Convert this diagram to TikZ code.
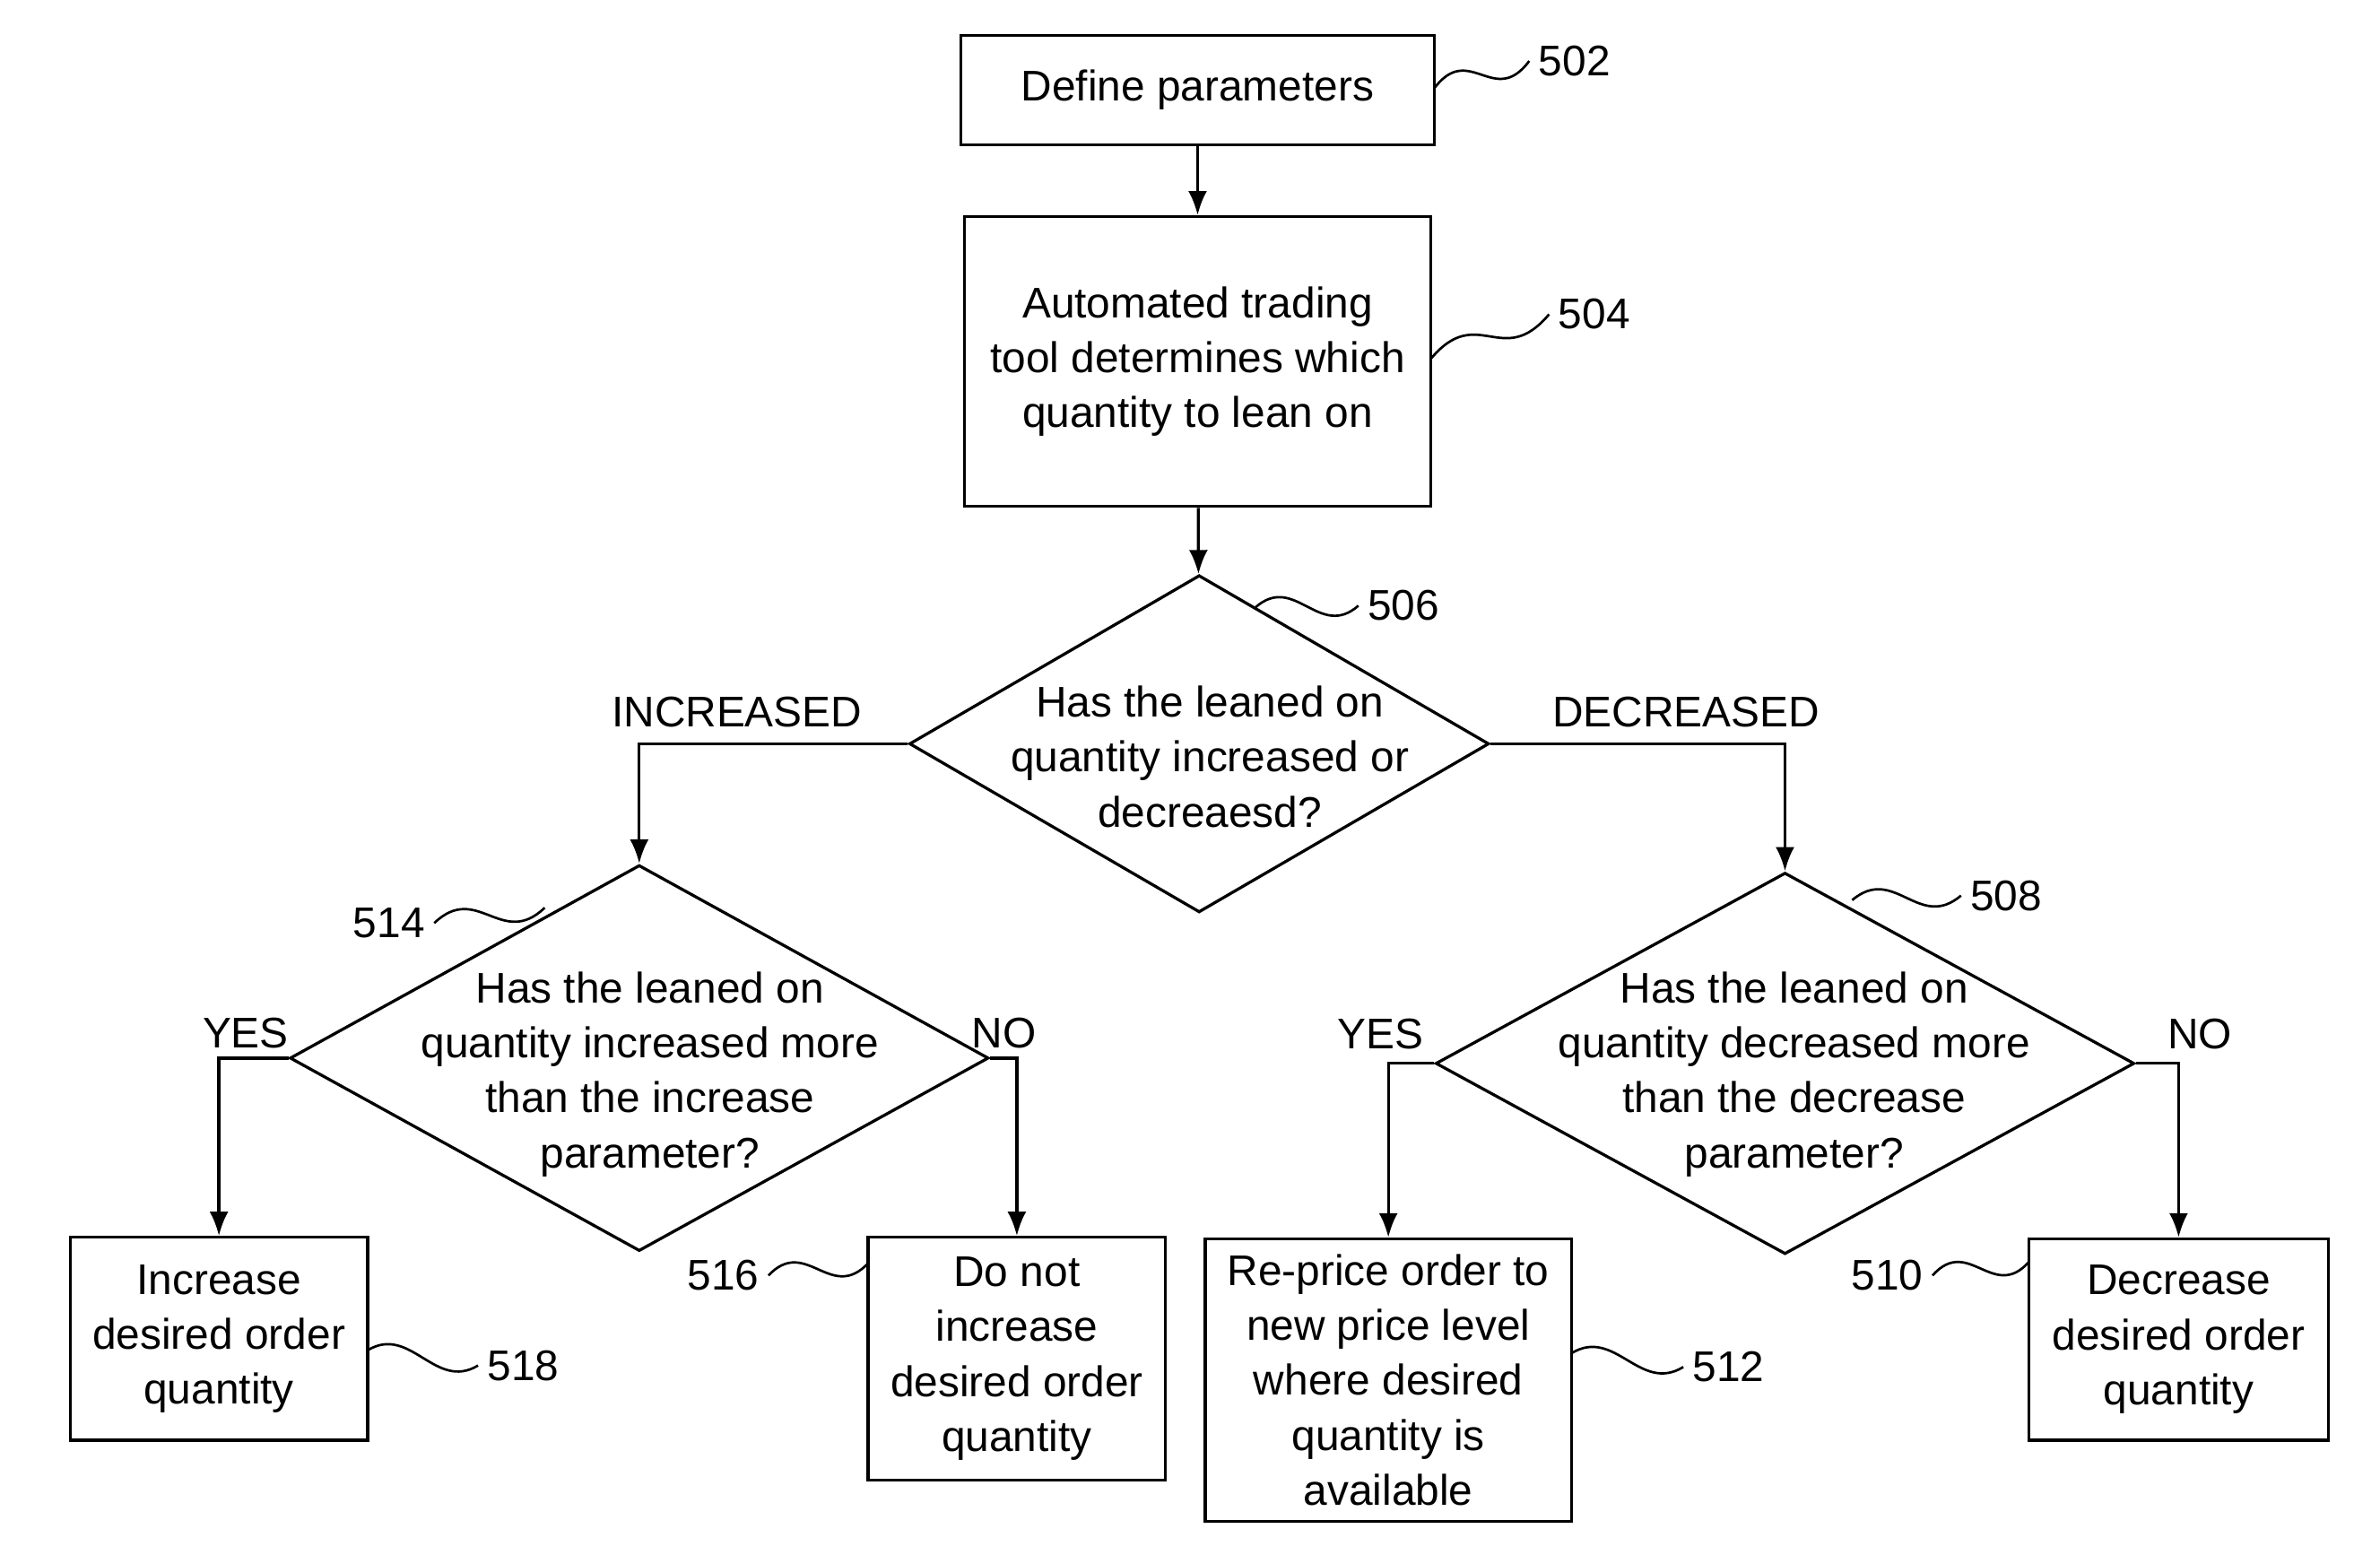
\documentclass[tikz,border=0pt]{standalone}
\usepackage{fontspec}
\setmainfont{Liberation Sans}
\usetikzlibrary{shapes.geometric,arrows.meta,calc}

\tikzset{
  procbox/.style={draw, line width=1.1pt, inner sep=0pt},
  dia/.style={draw, diamond, line width=1.1pt, inner sep=0pt},
  txt/.style={align=center, font=\fontsize{16}{20.5}\selectfont},
  flow/.style={line width=1.1pt, -{Latex[length=9pt,width=7pt]}},
  tag/.style={font=\fontsize{16}{20}\selectfont},
  wave/.style={line width=0.9pt}
}
\newcommand{\squig}[2]{\draw[wave] (#1) .. controls ($(#1)!0.5!(#2)+(-8,-22)$) and ($(#1)!0.5!(#2)+(8,22)$) .. (#2);}

\begin{document}
\begin{tikzpicture}[x=0.02cm, y=-0.02cm]
    \useasboundingbox (0,0) rectangle (1560,1019);
    % boxes
    \node[procbox, minimum width=310*0.02cm, minimum height=72*0.02cm, txt] (s502) at (785,59) {Define parameters};
    \node[procbox, minimum width=306*0.02cm, minimum height=190*0.02cm, txt] (s504) at (785,237)
      {Automated trading\\tool determines which\\quantity to lean on};
    \node[procbox, minimum width=195*0.02cm, minimum height=133*0.02cm, txt] (s518) at (143.5,877.5)
      {Increase\\desired order\\quantity};
    \node[procbox, minimum width=195*0.02cm, minimum height=159*0.02cm, txt] (s516) at (666.5,890.5)
      {Do not\\increase\\desired order\\quantity};
    \node[procbox, minimum width=240*0.02cm, minimum height=185*0.02cm, txt] (s512) at (910,904.5)
      {Re-price order to\\new price level\\where desired\\quantity is\\available};
    \node[procbox, minimum width=196*0.02cm, minimum height=132*0.02cm, txt] (s510) at (1428,878)
      {Decrease\\desired order\\quantity};
    % decisions
    \node[dia, minimum width=380*0.02cm, minimum height=221*0.02cm] (d506) at (786,487.5) {};
    \node[txt] at (793,496) {Has the leaned on\\quantity increased or\\decreaesd?};
    \node[dia, minimum width=458*0.02cm, minimum height=253*0.02cm] (d514) at (419,693.5) {};
    \node[txt] at (426,704) {Has the leaned on\\quantity increased more\\than the increase\\parameter?};
    \node[dia, minimum width=458*0.02cm, minimum height=250*0.02cm] (d508) at (1170,697) {};
    \node[txt] at (1176,704) {Has the leaned on\\quantity decreased more\\than the decrease\\parameter?};
    % flow
    \draw[flow] (s502) -- (s504);
    \draw[flow] (s504) -- (d506);
    \draw[flow] (d506.west) -| (d514.north);
    \draw[flow] (d506.east) -| (d508.north);
    \draw[flow] (d514.west) -| (s518.north);
    \draw[flow] (d514.east) -| (s516.north);
    \draw[flow] (d508.west) -| (s512.north);
    \draw[flow] (d508.east) -| (s510.north);
    \node[tag] (lInc) at (483,467) {INCREASED};
    \node[tag] (lDec) at (1105,467) {DECREASED};
    \node[tag] (lY1) at (161,677) {YES};
    \node[tag] (lN1) at (658,677) {NO};
    \node[tag] (lY2) at (905,678) {YES};
    \node[tag] (lN2) at (1442,678) {NO};
    % reference numbers
    \node[tag] (n502) at (1032,40) {502};
    \node[tag] (n504) at (1045,206) {504};
    \node[tag] (n506) at (920,397) {506};
    \node[tag] (n514) at (255,605) {514};
    \node[tag] (n508) at (1315,587) {508};
    \node[tag] (n516) at (474,836) {516};
    \node[tag] (n518) at (343,895) {518};
    \node[tag] (n512) at (1133,896) {512};
    \node[tag] (n510) at (1237,836) {510};
    \coordinate (w502) at (940,58);
    \coordinate (w504) at (938,235);
    \coordinate (w506) at (823,398);
    \coordinate (w514) at (357,595);
    \coordinate (w508) at (1214,590);
    \coordinate (w516) at (569,828);
    \coordinate (w518) at (241,885);
    \coordinate (w512) at (1030,887);
    \coordinate (w510) at (1330,827);
    \squig{w502}{n502.west}
    \squig{w504}{n504.west}
    \squig{w506}{n506.west}
    \squig{n514.east}{w514}
    \squig{w508}{n508.west}
    \squig{n516.east}{w516}
    \squig{w518}{n518.west}
    \squig{w512}{n512.west}
    \squig{n510.east}{w510}
\end{tikzpicture}
\end{document}
